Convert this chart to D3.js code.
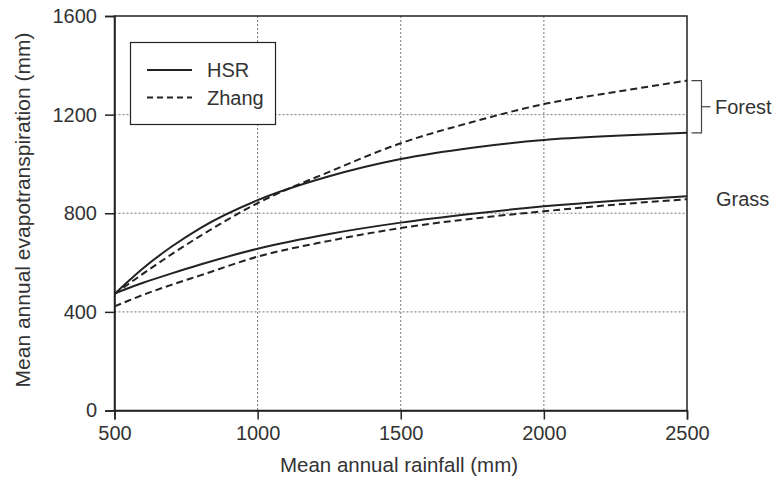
<!DOCTYPE html>
<html>
<head>
<meta charset="utf-8">
<script src="https://cdn.jsdelivr.net/npm/d3@7"></script>
<style>
  body { margin: 0; background: #fff; }
  svg { display: block; font-family: "Liberation Sans", Arial, sans-serif; }
</style>
</head>
<body>
<svg id="chart" width="783" height="488"></svg>
<script>
const rainfall    = [500, 550, 600, 700, 800, 1000, 1250, 1500, 1750, 2000, 2250, 2500];
const forestHSR   = [472, 526, 577, 665, 740, 853, 950, 1020, 1066, 1097, 1114, 1126];
const forestZhang = [472, 514, 555, 634, 708, 841, 968, 1084, 1170, 1243, 1292, 1338];
const grassHSR    = [474, 497, 518, 556, 592, 656, 716, 762, 798, 828, 851, 869];
const grassZhang  = [422, 446, 469, 510, 548, 624, 688, 740, 778, 808, 835, 857];
const xTicks = [500, 1000, 1500, 2000, 2500];
const yTicks = [0, 400, 800, 1200, 1600];
const seriesNames = ["HSR", "Zhang"];
const groupLabels = ["Forest", "Grass"];

const svg = d3.select("#chart");
const m = { left: 114.5, right: 687, top: 16, bottom: 410.5 };
const x = d3.scaleLinear().domain([500, 2500]).range([m.left, m.right]);
const y = d3.scaleLinear().domain([0, 1600]).range([m.bottom, m.top]);
const ink = "#222";
const txt = "#333";
const fs = "20px";

// grid
const grid = svg.append("g");
grid.selectAll(".gx").data(xTicks.slice(1, -1)).enter().append("line")
  .attr("x1", d => x(d)).attr("x2", d => x(d)).attr("y1", m.top).attr("y2", m.bottom)
  .attr("stroke", "#777").attr("stroke-width", 1).attr("stroke-dasharray", "2,2");
grid.selectAll(".gy").data(yTicks.slice(1, -1)).enter().append("line")
  .attr("y1", d => y(d)).attr("y2", d => y(d)).attr("x1", m.left).attr("x2", m.right)
  .attr("stroke", "#777").attr("stroke-width", 1).attr("stroke-dasharray", "2,2");

// frame
svg.append("rect").attr("x", m.left).attr("y", m.top)
  .attr("width", m.right - m.left).attr("height", m.bottom - m.top)
  .attr("fill", "none").attr("stroke", ink).attr("stroke-width", 1.5);

// axes
const xAxis = svg.append("g").attr("transform", `translate(0,${m.bottom})`)
  .call(d3.axisBottom(x).tickValues(xTicks).tickSize(9).tickPadding(6).tickFormat(d3.format("d")));
const yAxis = svg.append("g").attr("transform", `translate(${m.left},0)`)
  .call(d3.axisLeft(y).tickValues(yTicks).tickSize(9.5).tickPadding(8).tickFormat(d3.format("d")));
[xAxis, yAxis].forEach(a => {
  a.select(".domain").attr("stroke", ink).attr("stroke-width", 1.5);
  a.selectAll(".tick line").attr("stroke", ink).attr("stroke-width", 1.5);
  a.selectAll(".tick text").attr("fill", txt).style("font-size", fs).style("font-family", "'Liberation Sans', Arial, sans-serif");
});

// curves
const line = d3.line().x(d => x(d[0])).y(d => y(d[1])).curve(d3.curveMonotoneX);
const series = [
  { v: forestHSR, dash: null },
  { v: forestZhang, dash: "7,4" },
  { v: grassHSR, dash: null },
  { v: grassZhang, dash: "7,4" }
];
series.forEach(s => {
  svg.append("path").datum(rainfall.map((r, i) => [r, s.v[i]]))
    .attr("d", line).attr("fill", "none").attr("stroke", ink).attr("stroke-width", 2)
    .attr("stroke-dasharray", s.dash);
});

// legend
const lg = svg.append("g");
lg.append("rect").attr("x", 130.5).attr("y", 42.5).attr("width", 145).attr("height", 82)
  .attr("fill", "#fff").attr("stroke", ink).attr("stroke-width", 1.2);
seriesNames.forEach((n, i) => {
  const yy = 70 + i * 27.5;
  lg.append("line").attr("x1", 147).attr("x2", 192).attr("y1", yy).attr("y2", yy)
    .attr("stroke", ink).attr("stroke-width", 2).attr("stroke-dasharray", i ? "6,4" : null);
  lg.append("text").attr("x", 207).attr("y", yy).attr("dy", "0.35em")
    .attr("fill", txt).style("font-size", fs).text(n);
});

// bracket for Forest
const bx = 701.5;
const yTop = y(forestZhang[forestZhang.length - 1]);
const yBot = y(forestHSR[forestHSR.length - 1]);
const br = svg.append("g").attr("stroke", "#444").attr("stroke-width", 1.2).attr("fill", "none");
br.append("path").attr("d", `M${bx - 10},${yTop} H${bx} V${yBot} H${bx - 10}`);
const yMid = (yTop + yBot) / 2;
br.append("line").attr("x1", bx).attr("x2", bx + 9).attr("y1", yMid).attr("y2", yMid);
svg.append("text").attr("x", 715).attr("y", yMid).attr("dy", "0.35em")
  .attr("fill", txt).style("font-size", fs).text(groupLabels[0]);
svg.append("text").attr("x", 716).attr("y", y(grassHSR[grassHSR.length - 1]) + 3).attr("dy", "0.35em")
  .attr("fill", txt).style("font-size", fs).text(groupLabels[1]);

// axis titles
svg.append("text").attr("x", 399).attr("y", 472)
  .attr("text-anchor", "middle").attr("fill", txt).style("font-size", "20.5px")
  .text("Mean annual rainfall (mm)");
svg.append("text").attr("transform", `translate(30,210) rotate(-90)`)
  .attr("text-anchor", "middle").attr("fill", txt).style("font-size", "21px")
  .text("Mean annual evapotranspiration (mm)");
</script>
</body>
</html>
